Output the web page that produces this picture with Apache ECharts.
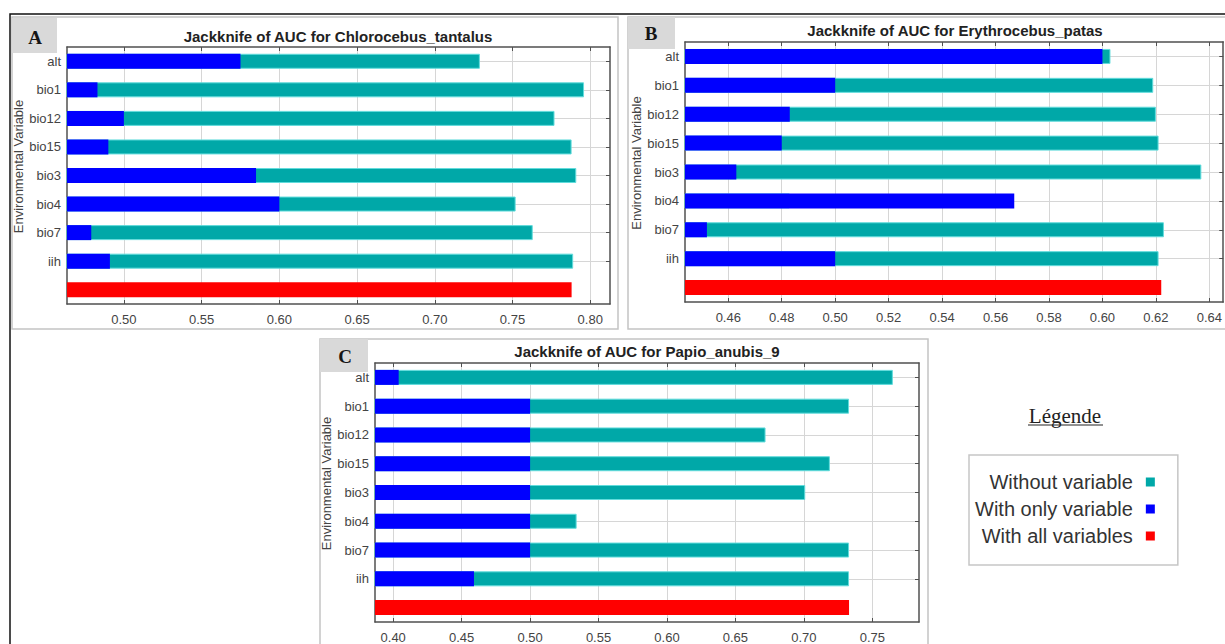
<!DOCTYPE html>
<html>
<head>
<meta charset="utf-8">
<script src="https://cdn.jsdelivr.net/npm/echarts@6/dist/echarts.min.js"></script>
<style>
html,body{margin:0;padding:0;background:#ffffff;}
#chart{width:1225px;height:644px;}
</style>
</head>
<body>
<div id="chart"></div>
<script>
// ---------------- data ----------------
const variables = ['alt', 'bio1', 'bio12', 'bio15', 'bio3', 'bio4', 'bio7', 'iih'];
const seriesNames = ['Without variable', 'With only variable', 'With all variables'];

const titleA = 'Jackknife of AUC for Chlorocebus_tantalus';
const withoutA = [0.729, 0.796, 0.777, 0.788, 0.791, 0.752, 0.763, 0.789];
const onlyA    = [0.575, 0.483, 0.500, 0.490, 0.585, 0.600, 0.479, 0.491];
const allA     = 0.788;
const ticksA   = [0.50, 0.55, 0.60, 0.65, 0.70, 0.75, 0.80];

const titleB = 'Jackknife of AUC for Erythrocebus_patas';
const withoutB = [0.603, 0.619, 0.620, 0.621, 0.637, 0.483, 0.623, 0.621];
const onlyB    = [0.600, 0.500, 0.483, 0.480, 0.463, 0.567, 0.452, 0.500];
const allB     = 0.622;
const ticksB   = [0.46, 0.48, 0.50, 0.52, 0.54, 0.56, 0.58, 0.60, 0.62, 0.64];

const titleC = 'Jackknife of AUC for Papio_anubis_9';
const withoutC = [0.765, 0.733, 0.672, 0.719, 0.701, 0.534, 0.733, 0.733];
const onlyC    = [0.404, 0.500, 0.500, 0.500, 0.500, 0.500, 0.500, 0.459];
const allC     = 0.733;
const ticksC   = [0.40, 0.45, 0.50, 0.55, 0.60, 0.65, 0.70, 0.75];

const axisName = 'Environmental Variable';
const legendTitle = 'Légende';

// ---------------- layout / style ----------------
const FONT = 'Liberation Sans, Arial, sans-serif';
const SERIF = 'Liberation Serif, Times New Roman, serif';
const COLORS = ['#00a8a8', '#0000ff', '#ff0000'];
const FRAME = '#505050';
const GRIDC = '#d6d6d6';

const panels = [
  { letter: 'A', title: titleA, without: withoutA, only: onlyA, all: allA, ticks: ticksA,
    min: 0.4634, max: 0.8127, grid: { left: 67, top: 47, width: 543, height: 257 },
    titlePos: [338, 29], box: [12, 17, 606, 312], labelBox: [12, 18, 45, 35], labelPos: [35, 37] },
  { letter: 'B', title: titleB, without: withoutB, only: onlyB, all: allB, ticks: ticksB,
    min: 0.4438, max: 0.6452, grid: { left: 685, top: 42, width: 539, height: 260 },
    titlePos: [955, 23], box: [628, 17, 630, 312], labelBox: [628, 17, 47, 32], labelPos: [651, 33] },
  { letter: 'C', title: titleC, without: withoutC, only: onlyC, all: allC, ticks: ticksC,
    min: 0.3867, max: 0.7841, grid: { left: 375, top: 363, width: 544, height: 259 },
    titlePos: [647, 344], box: [320, 339, 608, 330], labelBox: [320, 339, 48, 33], labelPos: [345, 356] }
];

const categories = variables.concat(['']);
const nVar = variables.length;

const option = {
  animation: false,
  backgroundColor: '#ffffff',
  title: [],
  grid: [],
  xAxis: [],
  yAxis: [],
  series: [],
  legend: {
    data: seriesNames,
    orient: 'vertical',
    left: 969,
    top: 455,
    align: 'right',
    icon: 'rect',
    itemWidth: 9,
    itemHeight: 9,
    itemGap: 7,
    selectedMode: false,
    padding: [17, 23, 19, 6],
    borderColor: '#c6c6c6',
    borderWidth: 1.5,
    itemStyle: { borderWidth: 0 },
    textStyle: { fontSize: 20, color: '#333', fontFamily: FONT, lineHeight: 20, padding: [0, 8, 0, 0] }
  },
  graphic: []
};

// Outer black frame (top + left edges)
option.graphic.push({
  type: 'polyline', z: 100,
  shape: { points: [[10, 644], [10, 14], [1225, 14]] },
  style: { stroke: '#111', lineWidth: 1.5, fill: null }
});

panels.forEach((p, i) => {
  option.title.push({
    text: p.title, left: p.titlePos[0], top: p.titlePos[1], textAlign: 'center', padding: 0,
    textStyle: { fontSize: 15, fontWeight: 'bold', color: '#222', fontFamily: FONT }
  });
  option.grid.push(Object.assign({ containLabel: false }, p.grid));

  const lineStyle = { color: FRAME, width: 1.5 };
  // bottom value axis
  option.xAxis[i] = {
    gridIndex: i, type: 'value', position: 'bottom', min: p.min, max: p.max,
    axisLine: { show: true, onZero: false, lineStyle },
    axisTick: { show: true, inside: true, length: 4, customValues: p.ticks, lineStyle: { color: FRAME } },
    axisLabel: { show: true, customValues: p.ticks, formatter: v => v.toFixed(2), color: '#444', fontSize: 13, margin: 9, fontFamily: FONT },
    splitLine: { show: true, lineStyle: { color: GRIDC, width: 1 } }
  };
  // top value axis (frame + ticks)
  option.xAxis[i + 3] = {
    gridIndex: i, type: 'value', position: 'top', min: p.min, max: p.max,
    axisLine: { show: true, onZero: false, lineStyle },
    axisTick: { show: true, inside: true, length: 4, customValues: p.ticks, lineStyle: { color: FRAME } },
    axisLabel: { show: false },
    splitLine: { show: false }
  };
  // left category axis
  option.yAxis[i] = {
    gridIndex: i, type: 'category', data: categories, inverse: true, position: 'left',
    axisLine: { show: true, onZero: false, lineStyle },
    axisTick: { show: false },
    axisLabel: { color: '#444', fontSize: 13, margin: 6, fontFamily: FONT },
    splitLine: { show: false },
    name: axisName, nameLocation: 'middle', nameGap: 39,
    nameTextStyle: { color: '#444', fontSize: 13, fontFamily: FONT, padding: [0, 0, 0, 18] }
  };
  // right category axis (frame, ticks and row lines)
  option.yAxis[i + 3] = {
    gridIndex: i, type: 'category', data: categories, inverse: true, position: 'right',
    axisLine: { show: true, onZero: false, lineStyle },
    axisTick: { show: true, inside: true, length: 4, alignWithLabel: true, interval: idx => idx < nVar, lineStyle: { color: FRAME } },
    axisLabel: { show: false },
    splitLine: { show: true, alignWithLabel: true, interval: idx => idx < nVar, lineStyle: { color: GRIDC, width: 1 } }
  };

  const withoutData = p.without.concat([null]);
  const onlyData = p.only.concat([null]);
  const allData = variables.map(() => null).concat([p.all]);
  [withoutData, onlyData, allData].forEach((d, k) => {
    option.series.push({
      name: seriesNames[k], type: 'bar', xAxisIndex: i, yAxisIndex: i,
      data: d, barWidth: 15, barGap: '-100%', clip: true,
      itemStyle: k === 0 ? { color: COLORS[k], borderColor: '#62dcdc', borderWidth: 1 } : { color: COLORS[k] }
    });
  });

  // panel frame and letter label
  option.graphic.push({
    type: 'rect', z: -10, silent: true,
    shape: { x: p.box[0], y: p.box[1], width: p.box[2], height: p.box[3] },
    style: { fill: null, stroke: '#c4c4c4', lineWidth: 1.5 }
  });
  option.graphic.push({
    type: 'rect', z: -9, silent: true,
    shape: { x: p.labelBox[0], y: p.labelBox[1], width: p.labelBox[2], height: p.labelBox[3] },
    style: { fill: '#d9d9d9' }
  });
  option.graphic.push({
    type: 'text', z: 10, x: p.labelPos[0], y: p.labelPos[1],
    style: { text: p.letter, font: 'bold 19px ' + SERIF, fill: '#151515', align: 'center', verticalAlign: 'middle' }
  });
});

// "Légende" heading with underline
option.graphic.push({
  type: 'text', x: 1065, y: 416,
  style: { text: legendTitle, font: '21px ' + SERIF, fill: '#222', align: 'center', verticalAlign: 'middle' }
});
option.graphic.push({
  type: 'line', shape: { x1: 1028, y1: 425, x2: 1103, y2: 425 },
  style: { stroke: '#222', lineWidth: 1 }
});

const chart = echarts.init(document.getElementById('chart'), null, { renderer: 'svg' });
chart.setOption(option);
</script>
</body>
</html>
